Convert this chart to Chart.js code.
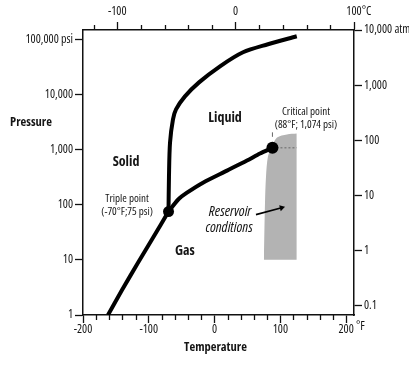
<!DOCTYPE html>
<html>
<head>
<meta charset="utf-8">
<script src="https://cdn.jsdelivr.net/npm/chart.js@4.4.1/dist/chart.umd.min.js"></script>
<style>
html, body { margin: 0; padding: 0; background: #fff; }
#chart { display: block; }
</style>
</head>
<body>
<canvas id="chart" width="409" height="365"></canvas>
<script>
// CO2 phase diagram, temperature in °F, pressure in psi
const sublimationTemp = [-162, -140.7, -116.4, -93.6, -70];
const sublimationPsi = [1, 2.85, 8.82, 25.1, 75];

const meltingTemp = [-70, -69.3, -67.7, -63.2, -58.6, -45, -23.6, 8.3, 43.3, 81.2, 125];
const meltingPsi = [75, 323, 1340, 3510, 5340, 9200, 16500, 32300, 58000, 81100, 113400];

const boilingTemp = [-70, -55.6, -41.9, -17.6, 18.9, 49.3, 69.1, 88];
const boilingPsi = [75, 123, 165, 251, 415, 631, 846, 1074];

const triplePoint = [-70, 75];
const criticalPoint = [88, 1074];

// reservoir conditions, outline from lower left round to upper right
const reservoirTemp = [75, 76.7, 78.2, 81.2, 87.3, 95, 110, 125];
const reservoirPsi = [10, 109, 322, 746, 1134, 1650, 1875, 1950];
const reservoirFloorPsi = 10;

const arrowTemp = [63, 102];
const arrowPsi = [66, 88];

// tick values and labels
const psiTicks = [1, 10, 100, 1000, 10000, 100000];
const psiLabels = ['1', '10', '100', '1,000', '10,000', '100,000 psi'];
const atmTicks = [0.1, 1, 10, 100, 1000, 10000];
const atmLabels = ['0.1', '1', '10', '100', '1,000', '10,000 atm'];

const PSI_PER_ATM = 14.696;
const fToC = f => (f - 32) / 1.8;

const FAMILY = "'Open Sans', 'Roboto Condensed', sans-serif";
const TICK_FONT = {family: FAMILY, weight: 'condensed', size: 12};
Chart.defaults.font.family = FAMILY;
Chart.defaults.color = '#151515';

function pts(xs, ys) {
	return xs.map((x, i) => ({x: x, y: ys[i]}));
}

// text placed in data units
const notes = [
	{text: 'Solid', t: -134.6, p: 605, font: 'condensed bold 14px ' + FAMILY},
	{text: 'Liquid', t: 16, p: 3660, font: 'condensed bold 14px ' + FAMILY},
	{text: 'Gas', t: -45, p: 14.6, font: 'condensed bold 14px ' + FAMILY},
	{text: 'Triple point', t: -133, p: 128, font: 'condensed 11px ' + FAMILY},
	{text: '(-70°F;75 psi)', t: -133, p: 74.6, font: 'condensed 11px ' + FAMILY},
	{text: 'Critical point', t: 139, p: 4900, font: 'condensed 11px ' + FAMILY},
	{text: '(88°F; 1,074 psi)', t: 139, p: 2850, font: 'condensed 11px ' + FAMILY},
	{text: 'Reservoir', t: 23.5, p: 74.6, font: 'italic condensed 14.5px ' + FAMILY},
	{text: 'conditions', t: 22, p: 38, font: 'italic condensed 14.5px ' + FAMILY}
];

const phaseText = {
	id: 'phaseText',
	afterDraw(chart) {
		const ctx = chart.ctx;
		const area = chart.chartArea;
		const xs = chart.scales.x, x2 = chart.scales.x2, ys = chart.scales.y;
		ctx.save();

		//minor ticks, shorter than the labelled ones
		ctx.strokeStyle = '#111';
		ctx.lineWidth = 1.3;
		xs.ticks.forEach((t, i) => {
			if (t.value % 100 === 0) return;
			const px = Math.round(xs.getPixelForTick(i)) + 0.5;
			ctx.beginPath(); ctx.moveTo(px, area.bottom); ctx.lineTo(px, area.bottom + 5); ctx.stroke();
		});
		x2.ticks.forEach((t, i) => {
			if (t.value % 100 === 0) return;
			const px = Math.round(x2.getPixelForTick(i)) + 0.5;
			ctx.beginPath(); ctx.moveTo(px, area.top - 5); ctx.lineTo(px, area.top); ctx.stroke();
		});

		//unit suffixes behind the last labels
		ctx.font = 'condensed 12px ' + FAMILY;
		ctx.fillStyle = '#151515';
		ctx.textAlign = 'left';
		ctx.textBaseline = 'middle';
		ctx.fillText('°C', x2.getPixelForValue(100) + ctx.measureText('100').width / 2, 12);
		ctx.fillText(' °F', xs.getPixelForValue(200) + ctx.measureText('200').width / 2, 327);

		//axis titles
		ctx.font = 'condensed bold 12.5px ' + FAMILY;
		ctx.textAlign = 'center';
		ctx.fillText('Pressure', 31, ys.getPixelForValue(3100));
		ctx.fillText('Temperature', (area.left + area.right) / 2 - 3, 347);

		notes.forEach(n => {
			ctx.font = n.font;
			ctx.fillText(n.text, xs.getPixelForValue(n.t), ys.getPixelForValue(n.p));
		});
		ctx.restore();
	}
};

const curve = (data, extra) => Object.assign({
	data: data,
	showLine: true,
	borderColor: '#000',
	borderWidth: 4,
	pointRadius: 0,
	tension: 0.3,
	fill: false
}, extra || {});

const minorTickColor = c => (c.tick && c.tick.value % 100 === 0) ? '#111' : 'rgba(0,0,0,0)';

const chart_phase = new Chart(document.getElementById('chart'), {
	type: 'scatter',
	data: {
		datasets: [
			{data: [{x: triplePoint[0], y: triplePoint[1]}], pointRadius: 5.5, backgroundColor: '#000', borderWidth: 0},
			{data: [{x: criticalPoint[0], y: criticalPoint[1]}], pointRadius: 6, backgroundColor: '#000', borderWidth: 0},
			curve(pts(sublimationTemp, sublimationPsi), {tension: 0.2}),
			curve(pts(meltingTemp, meltingPsi)),
			curve(pts(boilingTemp, boilingPsi), {tension: 0.25}),
			curve(pts(arrowTemp, arrowPsi), {
				borderWidth: 1.6,
				tension: 0,
				pointRadius: [0, 3.5],
				pointStyle: 'triangle',
				backgroundColor: '#000',
				pointBorderWidth: 0,
				pointRotation: c => {
					const xs = c.chart.scales.x, ys = c.chart.scales.y;
					if (!xs || !ys) return 0;
					const dx = xs.getPixelForValue(arrowTemp[1]) - xs.getPixelForValue(arrowTemp[0]);
					const dy = ys.getPixelForValue(arrowPsi[1]) - ys.getPixelForValue(arrowPsi[0]);
					return Math.atan2(dy, dx) * 180 / Math.PI + 90;
				}
			}),
			//dotted level of the critical pressure
			curve(pts([criticalPoint[0], reservoirTemp[reservoirTemp.length - 1]], [criticalPoint[1], criticalPoint[1]]),
				{borderColor: '#666', borderWidth: 1, borderDash: [2, 2], tension: 0}),
			curve(pts([criticalPoint[0], criticalPoint[0]], [1700, 2050]), {borderColor: '#666', borderWidth: 1, tension: 0}),
			curve(pts(reservoirTemp, reservoirPsi), {
				borderWidth: 0,
				backgroundColor: '#b3b3b3',
				fill: {value: reservoirFloorPsi},
				tension: 0.3
			})
		]
	},
	options: {
		responsive: false,
		animation: false,
		devicePixelRatio: 1,
		layout: {padding: 0},
		plugins: {
			legend: {display: false},
			tooltip: {enabled: false}
		},
		scales: {
			x: {
				type: 'linear',
				position: 'bottom',
				min: -200,
				max: 212,
				afterFit: s => { s.height = 50; },
				ticks: {
					stepSize: 20,
					includeBounds: false,
					autoSkip: false,
					maxRotation: 0,
					padding: -1,
					font: TICK_FONT,
					callback: v => v % 100 === 0 ? String(v) : ''
				},
				grid: {drawOnChartArea: false, tickLength: 8, tickWidth: 1.3, tickColor: minorTickColor},
				border: {color: '#111', width: 1.5}
			},
			x2: {
				type: 'linear',
				position: 'top',
				min: fToC(-200),
				max: 100,
				afterFit: s => { s.height = 30; },
				ticks: {
					stepSize: 20,
					includeBounds: false,
					autoSkip: false,
					maxRotation: 0,
					padding: 3,
					font: TICK_FONT,
					callback: v => v % 100 === 0 ? String(v) : ''
				},
				grid: {drawOnChartArea: false, tickLength: 8, tickWidth: 1.3, tickColor: minorTickColor},
				border: {color: '#111', width: 1.5}
			},
			y: {
				type: 'logarithmic',
				position: 'left',
				min: 1,
				max: 10000 * PSI_PER_ATM,
				afterBuildTicks: s => { s.ticks = psiTicks.map(v => ({value: v})); },
				afterFit: s => { s.width = 83; },
				ticks: {
					autoSkip: false,
					padding: 2,
					font: TICK_FONT,
					callback: (v, i) => psiLabels[i]
				},
				grid: {drawOnChartArea: false, tickLength: 8, tickWidth: 1.3, tickColor: '#111'},
				border: {color: '#111', width: 1.5}
			},
			y2: {
				type: 'logarithmic',
				position: 'right',
				min: 1 / PSI_PER_ATM,
				max: 10000,
				afterBuildTicks: s => { s.ticks = atmTicks.map(v => ({value: v})); },
				afterFit: s => { s.width = 55; },
				ticks: {
					autoSkip: false,
					padding: 2,
					font: TICK_FONT,
					callback: (v, i) => atmLabels[i]
				},
				grid: {drawOnChartArea: false, tickLength: 8, tickWidth: 1.3, tickColor: '#111'},
				border: {color: '#111', width: 1.5}
			}
		}
	},
	plugins: [phaseText]
});
</script>
</body>
</html>
